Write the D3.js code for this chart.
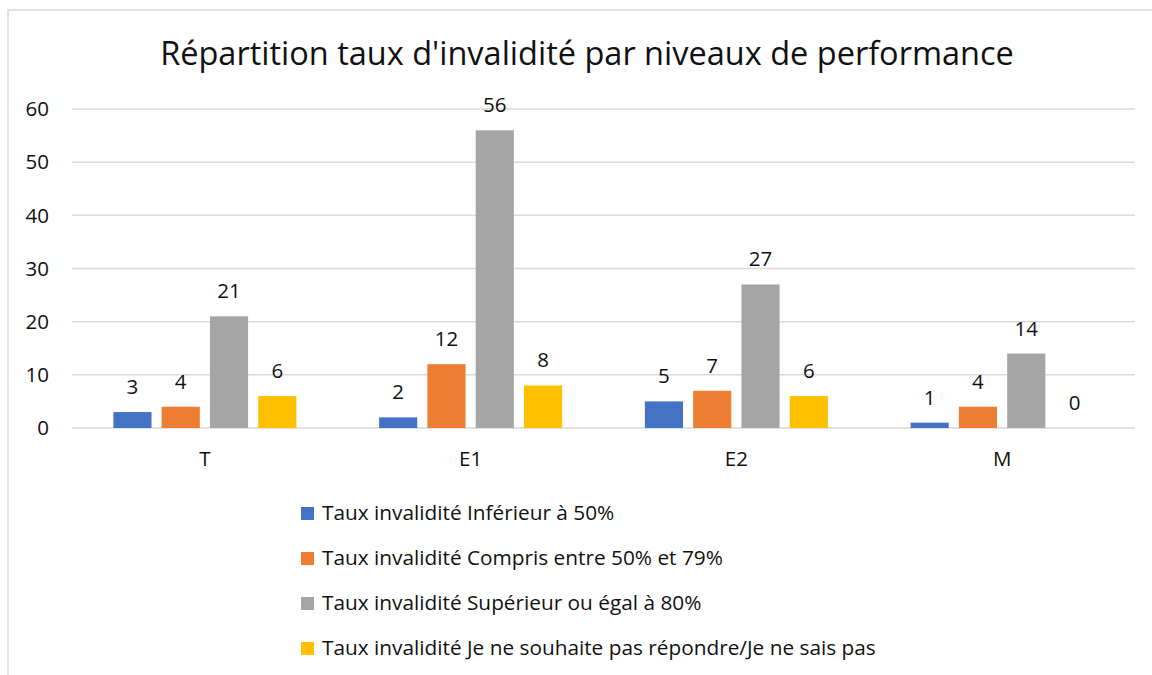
<!DOCTYPE html>
<html>
<head>
<meta charset="utf-8">
<script src="https://cdn.jsdelivr.net/npm/d3@7"></script>
<style>
  body { margin: 0; background: #fff; }
  svg text { font-family: "Open Sans", sans-serif; fill: #111; }
</style>
</head>
<body>
<svg id="chart" width="1152" height="675"></svg>
<script>
// categories et séries
const categories = ["T", "E1", "E2", "M"];
const seriesNames = [
    "Taux invalidité Inférieur à 50%",
    "Taux invalidité Compris entre 50% et 79%",
    "Taux invalidité Supérieur ou égal à 80%",
    "Taux invalidité Je ne souhaite pas répondre/Je ne sais pas"
];
const inferieur50 = [3, 2, 5, 1];
const entre50et79 = [4, 12, 7, 4];
const superieur80 = [21, 56, 27, 14];
const nsp = [6, 8, 6, 0];
const yTicks = [0, 10, 20, 30, 40, 50, 60];
const colors = ["#4472C4", "#ED7D31", "#A5A5A5", "#FFC000"];

const seriesValues = [inferieur50, entre50et79, superieur80, nsp];
const data = categories.map((c, i) => ({
    cat: c,
    vals: seriesValues.map((s, j) => ({ key: j, v: s[i] }))
}));

const svg = d3.select("#chart");

// cadre du graphique
svg.append("rect")
    .attr("x", 8).attr("y", 10)
    .attr("width", 1160).attr("height", 700)
    .attr("fill", "none").attr("stroke", "#d9d9d9").attr("stroke-width", 1.5);

// titre
svg.append("text")
    .attr("x", 587).attr("y", 65)
    .attr("text-anchor", "middle")
    .style("font-size", "32.5px")
    .text("Répartition taux d'invalidité par niveaux de performance");

const pLeft = 72, pRight = 1135, pTop = 109, pBottom = 428;

let y = d3.scaleLinear().domain([0, 60]).range([pBottom, pTop]);
let x0 = d3.scaleBand().domain(categories).range([pLeft, pRight])
    .paddingInner(0.273).paddingOuter(0.1365);
let x1 = d3.scaleBand().domain([0, 1, 2, 3]).range([0, x0.bandwidth()])
    .paddingInner(0.21).paddingOuter(0.105);

// grille
svg.append("g").selectAll("line")
    .data(yTicks).enter().append("line")
    .attr("x1", pLeft).attr("x2", pRight)
    .attr("y1", d => y(d)).attr("y2", d => y(d))
    .attr("stroke", "#d9d9d9").attr("stroke-width", 1.5);

// étiquettes de l'axe Y
svg.append("g").selectAll("text")
    .data(yTicks).enter().append("text")
    .attr("x", 49).attr("y", d => y(d))
    .attr("text-anchor", "end").attr("dy", "0.35em")
    .style("font-size", "20.5px")
    .text(d => d);

// étiquettes de l'axe X
svg.append("g").selectAll("text")
    .data(categories).enter().append("text")
    .attr("x", d => x0(d) + x0.bandwidth() / 2)
    .attr("y", 466)
    .attr("text-anchor", "middle")
    .style("font-size", "20.5px")
    .text(d => d);

// barres
let groups = svg.append("g").selectAll("g")
    .data(data).enter().append("g")
    .attr("transform", d => `translate(${x0(d.cat)},0)`);

groups.selectAll("rect")
    .data(d => d.vals).enter().append("rect")
    .attr("x", d => x1(d.key))
    .attr("width", x1.bandwidth())
    .attr("y", d => y(d.v))
    .attr("height", d => pBottom - y(d.v))
    .attr("fill", d => colors[d.key]);

groups.selectAll("text")
    .data(d => d.vals).enter().append("text")
    .attr("x", d => x1(d.key) + x1.bandwidth() / 2)
    .attr("y", d => y(d.v) - 18)
    .attr("text-anchor", "middle")
    .style("font-size", "20.5px")
    .text(d => d.v);

// légende
let legend = svg.append("g").selectAll("g")
    .data(seriesNames).enter().append("g")
    .attr("transform", (d, i) => `translate(301,${513 + i * 45})`);

legend.append("rect")
    .attr("x", 0).attr("y", -6)
    .attr("width", 13).attr("height", 13)
    .attr("fill", (d, i) => colors[i]);

legend.append("text")
    .attr("x", 21).attr("y", 0).attr("dy", "0.35em")
    .style("font-size", "20.8px")
    .text(d => d);
</script>
</body>
</html>
